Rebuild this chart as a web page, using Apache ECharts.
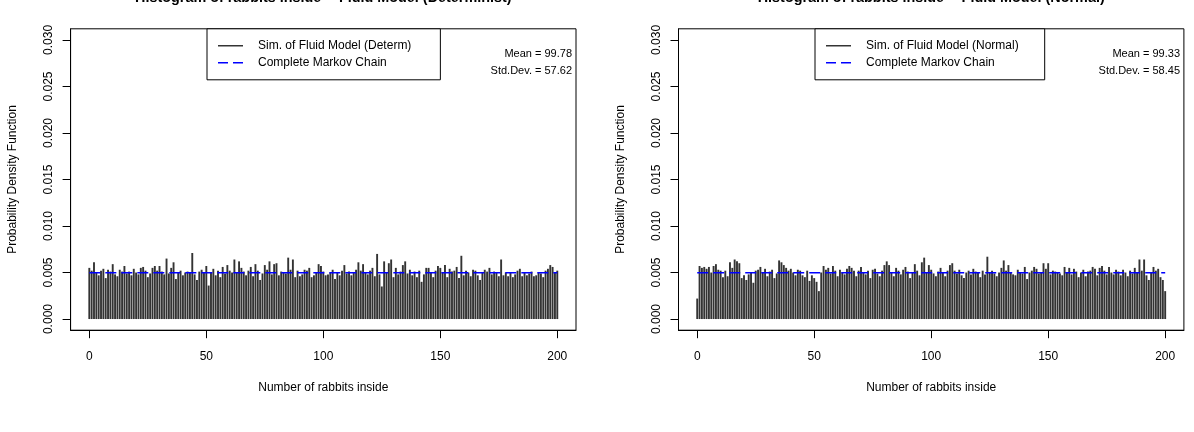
<!DOCTYPE html>
<html>
<head>
<meta charset="utf-8">
<script src="https://cdn.jsdelivr.net/npm/echarts@6/dist/echarts.min.js"></script>
<style>
html,body{margin:0;padding:0;background:#fff;}
#c{width:1194px;height:432px;}
</style>
</head>
<body>
<div id="c"></div>
<script>
// ---- data ----
var rabbitsInside = [];
for (var k = 0; k <= 200; k++) rabbitsInside.push(k);
var xTicks = [0, 50, 100, 150, 200];
var yTicks = [0, 0.005, 0.010, 0.015, 0.020, 0.025, 0.030];
var pdfDeterm = [
0.0055,0.0052,0.0061,0.0050,0.0047,0.0052,0.0054,0.0044,0.0053,0.0051,
0.0059,0.0048,0.0046,0.0053,0.0051,0.0057,0.0049,0.0051,0.0047,0.0054,
0.0050,0.0048,0.0055,0.0056,0.0052,0.0045,0.0049,0.0055,0.0057,0.0052,
0.0057,0.0051,0.0048,0.0065,0.0049,0.0055,0.0061,0.0043,0.0050,0.0052,
0.0047,0.0050,0.0051,0.0050,0.0071,0.0048,0.0042,0.0051,0.0053,0.0050,
0.0057,0.0036,0.0050,0.0054,0.0047,0.0052,0.0045,0.0056,0.0049,0.0058,
0.0052,0.0050,0.0064,0.0050,0.0062,0.0055,0.0051,0.0047,0.0052,0.0056,
0.0046,0.0059,0.0052,0.0042,0.0049,0.0058,0.0053,0.0062,0.0048,0.0059,
0.0060,0.0047,0.0051,0.0050,0.0049,0.0066,0.0053,0.0064,0.0045,0.0052,
0.0046,0.0048,0.0053,0.0052,0.0055,0.0045,0.0047,0.0050,0.0059,0.0057,
0.0051,0.0047,0.0048,0.0050,0.0053,0.0043,0.0050,0.0047,0.0052,0.0058,
0.0049,0.0051,0.0047,0.0050,0.0053,0.0061,0.0052,0.0059,0.0050,0.0048,
0.0052,0.0055,0.0046,0.0070,0.0048,0.0035,0.0062,0.0050,0.0060,0.0064,
0.0045,0.0055,0.0048,0.0051,0.0058,0.0062,0.0049,0.0053,0.0047,0.0051,
0.0045,0.0052,0.0040,0.0048,0.0055,0.0055,0.0050,0.0045,0.0052,0.0057,
0.0055,0.0050,0.0058,0.0045,0.0054,0.0051,0.0052,0.0056,0.0044,0.0068,
0.0047,0.0052,0.0050,0.0046,0.0053,0.0052,0.0047,0.0042,0.0050,0.0053,
0.0051,0.0055,0.0048,0.0051,0.0050,0.0046,0.0064,0.0047,0.0050,0.0046,
0.0050,0.0045,0.0048,0.0052,0.0054,0.0046,0.0050,0.0047,0.0049,0.0051,
0.0046,0.0047,0.0050,0.0049,0.0045,0.0052,0.0054,0.0058,0.0056,0.0050,
0.0052
];
var pdfNormal = [
0.0022,0.0057,0.0055,0.0056,0.0054,0.0056,0.0050,0.0057,0.0059,0.0053,
0.0052,0.0045,0.0052,0.0046,0.0061,0.0055,0.0064,0.0062,0.0060,0.0044,
0.0047,0.0042,0.0048,0.0050,0.0039,0.0052,0.0053,0.0056,0.0050,0.0054,
0.0046,0.0051,0.0053,0.0044,0.0049,0.0063,0.0061,0.0058,0.0055,0.0052,
0.0054,0.0050,0.0047,0.0053,0.0052,0.0047,0.0045,0.0052,0.0041,0.0047,
0.0044,0.0040,0.0030,0.0050,0.0057,0.0053,0.0055,0.0049,0.0057,0.0052,
0.0046,0.0053,0.0050,0.0048,0.0054,0.0057,0.0055,0.0052,0.0046,0.0052,
0.0056,0.0050,0.0048,0.0052,0.0044,0.0053,0.0054,0.0049,0.0046,0.0052,
0.0058,0.0062,0.0058,0.0050,0.0046,0.0055,0.0052,0.0048,0.0053,0.0056,
0.0051,0.0044,0.0050,0.0059,0.0052,0.0047,0.0061,0.0066,0.0050,0.0058,
0.0053,0.0049,0.0046,0.0051,0.0055,0.0050,0.0046,0.0052,0.0058,0.0060,
0.0052,0.0049,0.0053,0.0047,0.0044,0.0050,0.0052,0.0048,0.0054,0.0051,
0.0050,0.0045,0.0052,0.0048,0.0067,0.0050,0.0052,0.0049,0.0046,0.0050,
0.0055,0.0063,0.0052,0.0058,0.0050,0.0048,0.0047,0.0053,0.0050,0.0049,
0.0056,0.0043,0.0050,0.0052,0.0056,0.0054,0.0049,0.0050,0.0060,0.0054,
0.0060,0.0048,0.0052,0.0051,0.0050,0.0049,0.0047,0.0056,0.0050,0.0055,
0.0048,0.0054,0.0051,0.0045,0.0050,0.0053,0.0046,0.0051,0.0052,0.0056,
0.0054,0.0047,0.0055,0.0057,0.0052,0.0048,0.0056,0.0050,0.0048,0.0053,
0.0051,0.0047,0.0053,0.0050,0.0046,0.0052,0.0049,0.0055,0.0050,0.0064,
0.0052,0.0064,0.0047,0.0042,0.0050,0.0056,0.0052,0.0054,0.0045,0.0042,
0.0030
];
var markovX = [0, 200];
var markovP = [0.004975, 0.004975];
var titles = ['Histogram of rabbits inside -- Fluid Model (Determinist)', 'Histogram of rabbits inside -- Fluid Model (Normal)'];
var simNames = ['Sim. of Fluid Model (Determ)', 'Sim. of Fluid Model (Normal)'];
var markovName = 'Complete Markov Chain';
var statsText = [['Mean = 99.78', 'Std.Dev. = 57.62'], ['Mean = 99.33', 'Std.Dev. = 58.45']];

// ---- chart ----
var FONT = 'Liberation Sans, Arial, Helvetica, sans-serif';
var panels = [
  {left: 70.6, width: 505.4, center: 323.3, statRight: 572, legLeft: 207, legPadR: 29},
  {left: 678.5, width: 505.4, center: 931.2, statRight: 1180, legLeft: 815, legPadR: 26}
];
var gridTop = 28.8, gridHeight = 301.4;
function pairs(xs, ys){ var r=[]; for (var i=0;i<xs.length;i++) r.push([xs[i], ys[i]]); return r; }

var option = {
  animation: false,
  backgroundColor: '#fff',
  grid: [], xAxis: [], yAxis: [], series: [], legend: [], graphic: []
};
[pdfDeterm, pdfNormal].forEach(function(vals, p){
  var P = panels[p];
  option.grid.push({left: P.left, top: gridTop, width: P.width, height: gridHeight,
    show: true, borderColor: '#000', borderWidth: 1, backgroundColor: 'transparent'});
  option.xAxis.push({type: 'value', gridIndex: p, min: -8, max: 208,
    name: 'Number of rabbits inside', nameLocation: 'middle', nameGap: 51,
    nameTextStyle: {fontFamily: FONT, fontSize: 12, color: '#000'},
    axisLine: {show: true, onZero: false, lineStyle: {color: '#000', width: 1}},
    axisTick: {show: true, length: 8, lineStyle: {color: '#000'}, customValues: xTicks},
    axisLabel: {customValues: xTicks, margin: 20, fontFamily: FONT, fontSize: 12, color: '#000'},
    splitLine: {show: false}});
  option.yAxis.push({type: 'value', gridIndex: p, min: -0.0012, max: 0.0312,
    name: 'Probability Density Function', nameLocation: 'middle', nameGap: 52, nameRotate: 90,
    nameTextStyle: {fontFamily: FONT, fontSize: 12, color: '#000'},
    axisLine: {show: true, onZero: false, lineStyle: {color: '#000', width: 1}},
    axisTick: {show: true, length: 8, lineStyle: {color: '#000'}, customValues: yTicks},
    axisLabel: {customValues: yTicks, rotate: 90, margin: 16, fontFamily: FONT, fontSize: 12, color: '#000',
      formatter: function(v){ return v.toFixed(3); }},
    splitLine: {show: false}});
  option.series.push({type: 'bar', name: simNames[p], xAxisIndex: p, yAxisIndex: p,
    data: pairs(rabbitsInside, vals), barWidth: 1.9, itemStyle: {color: '#333333'}, silent: true});
  option.series.push({type: 'line', name: markovName + (p ? ' ' : ''), xAxisIndex: p, yAxisIndex: p,
    data: pairs(markovX, markovP), symbol: 'none', color: '#0000ff',
    itemStyle: {color: '#0000ff'},
    lineStyle: {color: '#0000ff', width: 1.5, type: [11, 5]}, silent: true, z: 5});
  option.legend.push({orient: 'vertical', left: P.legLeft, top: gridTop,
    padding: [10, P.legPadR, 10, 11], itemGap: 3, itemWidth: 25, itemHeight: 14,
    borderColor: '#000', borderWidth: 1, backgroundColor: '#fff',
    selectedMode: false,
    textStyle: {fontFamily: FONT, fontSize: 12, color: '#000', padding: [0, 0, 0, 10]},
    data: [
      {name: simNames[p], icon: 'path://M0,0M0,6.4H25V7.6H0ZM25,14', itemStyle: {color: '#000'}},
      {name: markovName + (p ? ' ' : ''), icon: 'path://M0,0M0,6.3H10V7.7H0ZM15,6.3H25V7.7H15ZM25,14', itemStyle: {color: '#0000ff'}}
    ]});
  option.graphic.push({type: 'text', x: P.center, y: -9,
    style: {text: titles[p], font: 'bold 14.4px ' + FONT, fill: '#000', textAlign: 'center', textVerticalAlign: 'top'}});
  option.graphic.push({type: 'text', x: P.statRight, y: 54,
    style: {text: statsText[p][0], font: '11px ' + FONT, fill: '#000', textAlign: 'right', textVerticalAlign: 'middle'}});
  option.graphic.push({type: 'text', x: P.statRight, y: 71,
    style: {text: statsText[p][1], font: '11px ' + FONT, fill: '#000', textAlign: 'right', textVerticalAlign: 'middle'}});
});
option.graphic = {elements: option.graphic};
var chart = echarts.init(document.getElementById('c'), null, {renderer: 'canvas'});
chart.setOption(option);
</script>
</body>
</html>
